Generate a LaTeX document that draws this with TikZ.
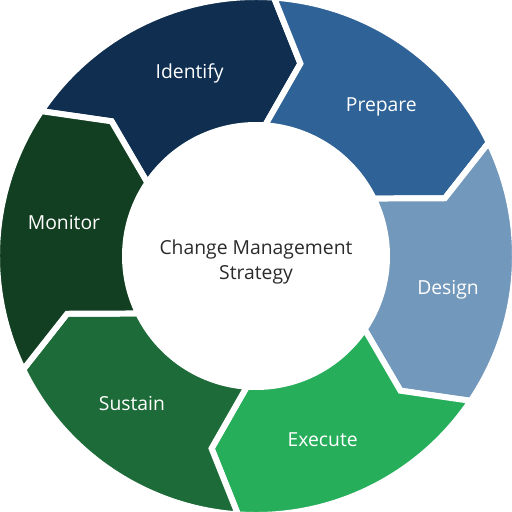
\documentclass[tikz,border=0pt]{standalone}
\usepackage{fontspec}
\setmainfont{Open Sans}
\usetikzlibrary{positioning}

\definecolor{identifycol}{HTML}{0F2E50}
\definecolor{preparecol}{HTML}{2F6296}
\definecolor{designcol}{HTML}{7298BC}
\definecolor{executecol}{HTML}{27AE5B}
\definecolor{sustaincol}{HTML}{1D6B38}
\definecolor{monitorcol}{HTML}{123F21}
\definecolor{centertext}{HTML}{2B2B2B}

% one piece of the ring: #1 = start angle (ccw side), #2 = colour
\newcommand{\ringpart}[2]{%
  \filldraw[part, fill=#2] (#1:\Rout)
    arc[start angle=#1, end angle=#1-60, radius=\Rout]
    -- (#1-69:\Rmid) -- (#1-60:\Rin)
    arc[start angle=#1-60, end angle=#1, radius=\Rin]
    -- (#1-9:\Rmid) -- cycle;}

\begin{document}
\begin{tikzpicture}[
    part/.style={draw=white, line width=3.4pt, line join=miter},
    lbl/.style={text=white, font=\fontsize{11}{13}\selectfont},
    hub/.style={text=centertext, align=center, font=\fontsize{11}{14}\selectfont}
]
    \def\Rout{5.18}
    \def\Rin{2.62}
    \def\Rmid{3.95}
    \useasboundingbox (-5.12,-5.12) rectangle (5.12,5.12);

    % ring pieces, clockwise from the top left
    \ringpart{146}{identifycol}
    \ringpart{86}{preparecol}
    \ringpart{26}{designcol}
    \ringpart{-34}{executecol}
    \ringpart{-94}{sustaincol}
    \ringpart{-154}{monitorcol}

    % labels
    \node[lbl] (identify) at (110:3.88) {Identify};
    \node[lbl] (prepare)  at (50:3.9)   {Prepare};
    \node[lbl] (design)   at (-10:3.9)  {Design};
    \node[lbl] (execute)  at (-70:3.9)  {Execute};
    \node[lbl] (sustain)  at (-130:3.86) {Sustain};
    \node[lbl] (monitor)  at (170:3.9)  {Monitor};

    % centre text
    \node[hub] (strategy) at (0,-0.12) {Change Management\\Strategy};
\end{tikzpicture}
\end{document}
